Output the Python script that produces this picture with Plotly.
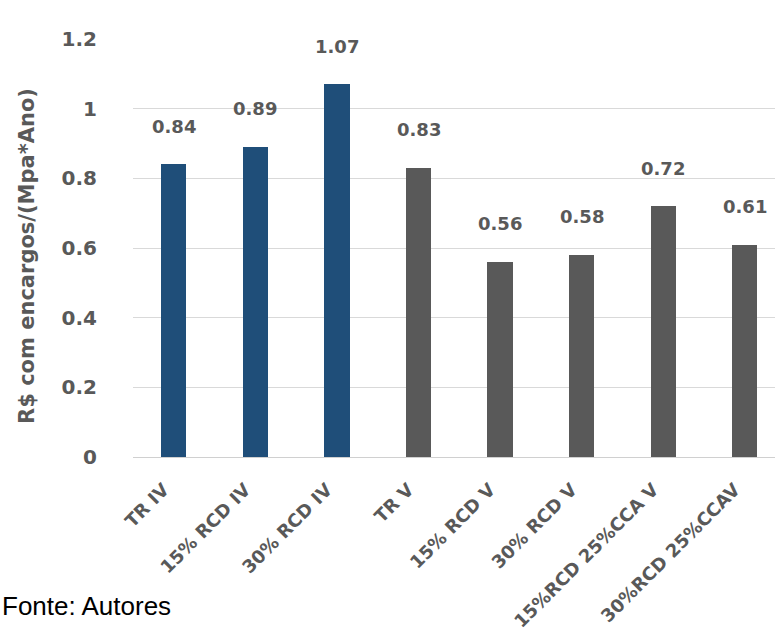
import plotly.graph_objects as go

# Cost per strength-year for each mix
categories = ["TR IV", "15% RCD IV", "30% RCD IV", "TR V", "15% RCD V",
              "30% RCD V", "15%RCD 25%CCA V", "30%RCD 25%CCAV"]
values = [0.84, 0.89, 1.07, 0.83, 0.56, 0.58, 0.72, 0.61]
group = ["IV", "IV", "IV", "V", "V", "V", "V", "V"]
y_ticks = [0, 0.2, 0.4, 0.6, 0.8, 1, 1.2]
y_tick_text = ["0", "0.2", "0.4", "0.6", "0.8", "1", "1.2"]

group_colors = {"IV": "#1F4E79", "V": "#595959"}
label_gray = "#595959"
bold_font = "DejaVu Sans"

fig = go.Figure()
fig.add_trace(go.Bar(
    x=categories,
    y=values,
    marker=dict(color=[group_colors[g] for g in group],
                line=dict(width=0)),
    width=0.31,
    hoverinfo="x+y",
))

# Value labels above each bar
for cat, val in zip(categories, values):
    fig.add_annotation(
        x=cat, y=val, text=f"<b>{val:.2f}</b>", showarrow=False,
        yshift=38, yanchor="middle", xanchor="center",
        font=dict(family=bold_font, size=18, color=label_gray),
    )

# Axis title
fig.add_annotation(
    xref="paper", yref="paper", x=-106 / 642, y=0.481,
    text="<b>R$ com encargos/(Mpa*Ano)</b>", textangle=-90,
    showarrow=False, xanchor="center", yanchor="middle",
    font=dict(family=bold_font, size=21, color=label_gray),
)

# Source note
fig.add_annotation(
    xref="paper", yref="paper", x=-133 / 642, y=-149 / 418,
    text="Fonte: Autores", showarrow=False, xanchor="left", yanchor="middle",
    font=dict(family="Liberation Sans", size=26, color="#000000"),
)

fig.update_layout(
    width=775, height=635,
    margin=dict(l=133, r=0, t=39, b=178),
    plot_bgcolor="white", paper_bgcolor="white",
    showlegend=False,
    bargap=0,
    xaxis=dict(
        range=[-0.5, 7.37],
        tickangle=-45,
        tickfont=dict(family=bold_font, size=18, color=label_gray),
        tickprefix="<b>", ticksuffix="</b>",
        showgrid=False,
        showline=True, linecolor="#d0d0d0", linewidth=1,
        ticks="",
        ticklabelstandoff=14,
        ticklabelshift=-10,
    ),
    yaxis=dict(
        range=[0, 1.2],
        tickvals=y_ticks,
        ticktext=[f"<b>{t}</b>" for t in y_tick_text],
        tickfont=dict(family=bold_font, size=20, color=label_gray),
        showgrid=True, gridcolor="#d9d9d9", gridwidth=1,
        zeroline=False,
        ticklabelstandoff=35,
    ),
)

fig.write_html("out.html")
